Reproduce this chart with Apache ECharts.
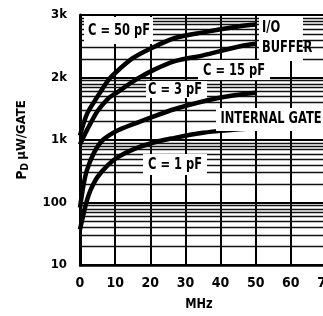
<!DOCTYPE html>
<html><head><meta charset="utf-8">
<script src="https://cdn.jsdelivr.net/npm/echarts/dist/echarts.min.js"></script>
<style>html,body{margin:0;padding:0;background:#fff}#c{width:323px;height:316px}</style>
</head><body><div id="c"></div>
<script>
// ---- data ----
const yTickValues = [10, 100, 1000, 2000, 3000];
const yTickLabels = ['10', '100', '1k', '2k', '3k'];

const mhzC50 = [0, 2, 5, 8, 10, 15, 20, 27, 35, 45, 50];
const pwC50  = [1020, 1180, 1440, 1890, 2020, 2115, 2210, 2365, 2475, 2615, 2670];

const mhzC15 = [0, 2, 5, 8, 10, 16, 21, 27, 35, 45, 50];
const pwC15  = [846, 1050, 1213, 1401, 1500, 1923, 2036, 2092, 2140, 2234, 2273];

const mhzC3 = [0, 1, 2, 4, 6.5, 11, 18, 27, 40, 50];
const pwC3  = [83, 190, 333, 628, 1000, 1050, 1117, 1237, 1420, 1522];

const mhzC1 = [0, 1, 2, 3, 5, 8, 11, 15, 20, 26, 35, 50];
const pwC1  = [37, 65, 109, 158, 257, 401, 541, 702, 878, 1006, 1034, 1061];

// ---- scale: each labelled band is drawn like one log-paper decade ----
function pos(v) {
  for (let i = 0; i < yTickValues.length - 1; i++) {
    const a = yTickValues[i], b = yTickValues[i + 1];
    if (v <= b || i === yTickValues.length - 2) {
      return i + Math.log10(1 + 9 * (v - a) / (b - a));
    }
  }
}
function pairs(xs, vs) { return xs.map((x, i) => [x, pos(vs[i])]); }
const minorPos = [];
for (let i = 0; i < yTickValues.length - 1; i++)
  for (let k = 2; k <= 9; k++) minorPos.push(i + Math.log10(k));

const FONT = '"DejaVu Sans Condensed","DejaVu Sans",sans-serif';

const chart = echarts.init(document.getElementById('c'));
function curve(name, xs, vs) {
  return {
    name, type: 'line', data: pairs(xs, vs), symbol: 'none', smooth: 0.3,
    lineStyle: { color: '#000', width: 4.5 }, z: 5, silent: true
  };
}
function box(x, y, w, h) {
  return { type: 'rect', shape: { x, y, width: w, height: h }, style: { fill: '#fff' }, z: 50, silent: true };
}
function txt(text, x, y, align) {
  return {
    type: 'text', x, y, z: 51, silent: true, scaleX: 0.85,
    style: { text, fill: '#000', font: 'bold 15px ' + FONT, textAlign: align || 'center', textVerticalAlign: 'middle' }
  };
}
chart.setOption({
  animation: false,
  backgroundColor: '#fff',
  grid: { left: 80, top: 15, bottom: 51, width: 246, containLabel: false, outerBoundsMode: 'none' },
  xAxis: {
    type: 'value', min: 0, max: 70, interval: 10,
    axisLine: { lineStyle: { color: '#000', width: 2.5 } },
    axisTick: { show: false },
    splitLine: { show: true, lineStyle: { color: '#000', width: 2 } },
    axisLabel: { color: '#000', fontFamily: FONT, fontWeight: 'bold', fontSize: 14, margin: 11, hideOverlap: false }
  },
  yAxis: {
    type: 'value', min: 0, max: 4, interval: 1,
    name: '{p|P}{d|D} {n|µW/GATE}', nameLocation: 'middle', nameRotate: 90, nameGap: 50,
    nameTextStyle: {
      rich: {
        p: { fontFamily: FONT, fontWeight: 'bold', fontSize: 14, color: '#000' },
        d: { fontFamily: FONT, fontWeight: 'bold', fontSize: 10, color: '#000', verticalAlign: 'bottom', padding: [6, 0, 0, 0] },
        n: { fontFamily: FONT, fontWeight: 'bold', fontSize: 13, color: '#000' }
      }
    },
    axisLine: { show: true, lineStyle: { color: '#000', width: 3 } },
    axisTick: { show: false },
    splitLine: { show: true, lineStyle: { color: '#000', width: 2.2 } },
    axisLabel: {
      color: '#000', fontFamily: FONT, fontWeight: 'bold', fontSize: 13, margin: 13,
      formatter: v => yTickLabels[Math.round(v)]
    }
  },
  series: [
    {
      type: 'line', data: [], silent: true, z: 1,
      markLine: {
        silent: true, symbol: ['none', 'none'], label: { show: false },
        lineStyle: { color: '#111', width: 1.3, type: 'solid' },
        data: minorPos.map(p => ({ yAxis: p }))
      }
    },
    curve('C = 50 pF', mhzC50, pwC50),
    curve('C = 15 pF', mhzC15, pwC15),
    curve('C = 3 pF', mhzC3, pwC3),
    curve('C = 1 pF', mhzC1, pwC1)
  ],
  graphic: [
    box(84, 17, 69, 27), txt('C = 50 pF', 119, 31),
    box(259, 16, 44, 45), txt('I/O', 262, 28, 'left'), txt('BUFFER', 262, 48, 'left'),
    box(198, 60, 72, 20), txt('C = 15 pF', 234, 71),
    box(146, 81, 61, 17), txt('C = 3 pF', 175, 90),
    box(216, 108, 107, 23), txt('INTERNAL GATE', 271, 119),
    box(143, 154, 64, 21), txt('C = 1 pF', 175, 165),
    { type: 'text', x: 199, y: 304, z: 51, silent: true, scaleX: 0.9,
      style: { text: 'MHz', fill: '#000', font: 'bold 14px ' + FONT, textAlign: 'center', textVerticalAlign: 'middle' } }
  ]
});
</script>
</body></html>
